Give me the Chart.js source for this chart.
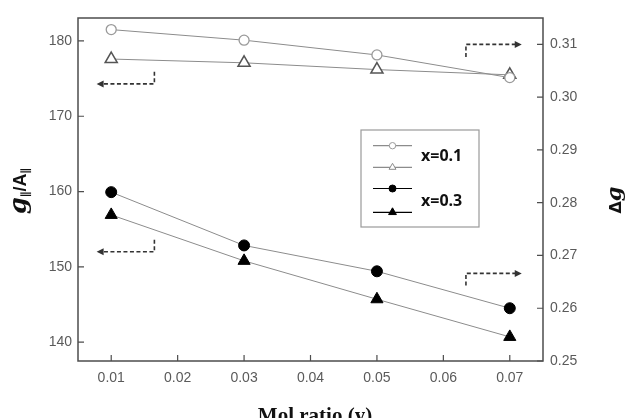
<!DOCTYPE html>
<html>
<head>
<meta charset="utf-8">
<script src="https://cdn.jsdelivr.net/npm/chart.js@4"></script>
<style>
  body { margin: 0; background: #fff; }
</style>
</head>
<body>
<canvas id="grafico" width="626" height="418"></canvas>
<script>
// valores
const molRatio = [0.01, 0.03, 0.05, 0.07];
const deltaG_x01 = [0.3128, 0.3108, 0.3080, 0.3037];   // circulos abertos, eixo direito
const gA_x01 = [177.6, 177.1, 176.2, 175.5];            // triangulos abertos, eixo esquerdo
const deltaG_x03 = [0.2820, 0.2719, 0.2670, 0.2600];   // circulos cheios, eixo direito
const gA_x03 = [156.9, 150.8, 145.7, 140.7];            // triangulos cheios, eixo esquerdo

const xTicks = [0.01, 0.02, 0.03, 0.04, 0.05, 0.06, 0.07];
const leftTicks = [140, 150, 160, 170, 180];
const rightTicks = [0.25, 0.26, 0.27, 0.28, 0.29, 0.30, 0.31];
const legendLabels = ['x=0.1', 'x=0.3'];

// setas tracejadas: [x do gancho, x da ponta, y do canto, y do gancho, eixo]
const setas = [
    [0.0165, 0.0078, 174.3, 175.9, 'y'],
    [0.0634, 0.0718, 0.3100, 0.3076, 'y2'],
    [0.0165, 0.0078, 152.0, 153.6, 'y'],
    [0.0634, 0.0718, 0.2666, 0.2643, 'y2']
];

function pontos(ys) {
    return molRatio.map((x, i) => ({ x: x, y: ys[i] }));
}

const linhaCinza = '#8c8c8c';

const datasets = [
    { label: 'x=0.1 dg', data: pontos(deltaG_x01), yAxisID: 'y2', order: 0,
      borderColor: linhaCinza, borderWidth: 1, pointStyle: 'circle', pointRadius: 5,
      pointBackgroundColor: '#fff', pointBorderColor: '#9a9a9a', pointBorderWidth: 1.3 },
    { label: 'x=0.1 gA', data: pontos(gA_x01), yAxisID: 'y', order: 1,
      borderColor: linhaCinza, borderWidth: 1, pointStyle: 'triangle', pointRadius: 7,
      pointBackgroundColor: '#fff', pointBorderColor: '#555', pointBorderWidth: 1.5 },
    { label: 'x=0.3 dg', data: pontos(deltaG_x03), yAxisID: 'y2', order: 0,
      borderColor: linhaCinza, borderWidth: 1, pointStyle: 'circle', pointRadius: 5.5,
      pointBackgroundColor: '#000', pointBorderColor: '#000', pointBorderWidth: 1 },
    { label: 'x=0.3 gA', data: pontos(gA_x03), yAxisID: 'y', order: 1,
      borderColor: linhaCinza, borderWidth: 1, pointStyle: 'triangle', pointRadius: 7,
      pointBackgroundColor: '#000', pointBorderColor: '#000', pointBorderWidth: 1 }
];

function textoComposto(ctx, partes, cx, cy) {
    let total = 0;
    partes.forEach(p => { ctx.font = p.font; total += ctx.measureText(p.text).width; });
    let x = cx - total / 2;
    partes.forEach(p => {
        ctx.font = p.font;
        ctx.fillText(p.text, x, cy + (p.dy || 0));
        x += ctx.measureText(p.text).width;
    });
}

function seta(ctx, x1, x2, y) {
    const dir = x2 > x1 ? 1 : -1;
    ctx.beginPath();
    ctx.moveTo(x2, y);
    ctx.lineTo(x2 - dir * 7, y - 3.5);
    ctx.lineTo(x2 - dir * 7, y + 3.5);
    ctx.closePath();
    ctx.fill();
}

const extras = {
    id: 'extras',
    afterDraw(chart) {
        const ctx = chart.ctx;
        const a = chart.chartArea;
        const sx = chart.scales.x;
        ctx.save();

        // moldura
        ctx.strokeStyle = '#4d4d4d';
        ctx.lineWidth = 1.5;
        ctx.strokeRect(a.left, a.top, a.right - a.left, a.bottom - a.top);

        // marcas para dentro
        ctx.lineWidth = 1.2;
        ctx.beginPath();
        sx.ticks.forEach(t => {
            const p = sx.getPixelForValue(t.value);
            ctx.moveTo(p, a.bottom); ctx.lineTo(p, a.bottom - 6);
        });
        chart.scales.y.ticks.forEach(t => {
            const p = chart.scales.y.getPixelForValue(t.value);
            ctx.moveTo(a.left, p); ctx.lineTo(a.left + 6, p);
        });
        chart.scales.y2.ticks.forEach(t => {
            const p = chart.scales.y2.getPixelForValue(t.value);
            ctx.moveTo(a.right, p); ctx.lineTo(a.right - 6, p);
        });
        ctx.stroke();

        // setas tracejadas
        ctx.strokeStyle = '#333';
        ctx.fillStyle = '#333';
        ctx.lineWidth = 1.6;
        setas.forEach(s => {
            const sc = chart.scales[s[4]];
            const xg = sx.getPixelForValue(s[0]);
            const xp = sx.getPixelForValue(s[1]);
            const yc = sc.getPixelForValue(s[2]);
            const yg = sc.getPixelForValue(s[3]);
            ctx.setLineDash([4, 2.5]);
            ctx.beginPath();
            ctx.moveTo(xg, yg);
            ctx.lineTo(xg, yc);
            ctx.lineTo(xp + (xp > xg ? -6 : 6), yc);
            ctx.stroke();
            ctx.setLineDash([]);
            seta(ctx, xg, xp, yc);
        });

        // legenda
        const lx = 361, ly = 130, lw = 118, lh = 97;
        ctx.strokeStyle = '#9a9a9a';
        ctx.lineWidth = 1.2;
        ctx.strokeRect(lx, ly, lw, lh);
        const linhas = [145.7, 167.3, 188.5, 212.3];
        const estilos = [
            { cor: '#8c8c8c', forma: 'circle', fundo: '#fff', borda: '#9a9a9a', r: 3.2 },
            { cor: '#8c8c8c', forma: 'triangle', fundo: '#fff', borda: '#8c8c8c', r: 4 },
            { cor: '#000', forma: 'circle', fundo: '#000', borda: '#000', r: 3.5 },
            { cor: '#000', forma: 'triangle', fundo: '#000', borda: '#000', r: 4.5 }
        ];
        estilos.forEach((e, i) => {
            const y = linhas[i];
            ctx.strokeStyle = e.cor;
            ctx.lineWidth = 1.2;
            ctx.beginPath();
            ctx.moveTo(373, y); ctx.lineTo(412, y);
            ctx.stroke();
            ctx.fillStyle = e.fundo;
            ctx.strokeStyle = e.borda;
            ctx.lineWidth = 1;
            Chart.helpers.drawPoint(ctx, { pointStyle: e.forma, radius: e.r, borderWidth: 1 }, 392.5, y);
        });
        ctx.fillStyle = '#111';
        ctx.font = "bold 16px 'Open Sans'";
        ctx.textBaseline = 'middle';
        ctx.textAlign = 'left';
        ctx.fillText(legendLabels[0], 421, 156.5);
        ctx.fillText(legendLabels[1], 421, 201.5);

        // titulos dos eixos
        ctx.fillStyle = '#111';
        ctx.textBaseline = 'alphabetic';
        ctx.save();
        ctx.translate(26, 191);
        ctx.rotate(-Math.PI / 2);
        textoComposto(ctx, [
            { text: 'g', font: "italic bold 24px 'DejaVu Serif'" },
            { text: '\u2225', font: "bold 11px 'DejaVu Sans'", dy: 3 },
            { text: '/A', font: "bold 18px 'Liberation Sans'" },
            { text: '\u2225', font: "bold 11px 'DejaVu Sans'", dy: 3 }
        ], 0, 0);
        ctx.restore();

        ctx.save();
        ctx.translate(621, 200);
        ctx.rotate(-Math.PI / 2);
        textoComposto(ctx, [
            { text: '\u0394', font: "bold 16px 'DejaVu Sans'" },
            { text: 'g', font: "italic bold 21px 'DejaVu Serif'" }
        ], 0, 0);
        ctx.restore();

        ctx.textAlign = 'center';
        ctx.font = "bold 21px 'Liberation Serif'";
        ctx.fillText('Mol ratio (y)', 315, 422);

        ctx.restore();
    }
};

const fonteTick = { family: "'Liberation Sans', Arial", size: 14 };

new Chart(document.getElementById('grafico'), {
    type: 'line',
    data: { datasets: datasets },
    options: {
        responsive: false,
        animation: false,
        layout: { padding: { top: 18, left: 0, right: 0, bottom: 0 } },
        plugins: { legend: { display: false }, tooltip: { enabled: false } },
        scales: {
            x: {
                type: 'linear', min: 0.005, max: 0.075,
                afterBuildTicks: s => { s.ticks = xTicks.map(v => ({ value: v })); },
                afterFit: s => { s.height = 57; },
                grid: { display: false, drawTicks: false },
                border: { display: false },
                ticks: { color: '#5a5a5a', font: fonteTick, padding: 9, maxRotation: 0,
                         callback: v => v.toFixed(2) }
            },
            y: {
                type: 'linear', position: 'left', min: 137.5, max: 183.05,
                afterBuildTicks: s => { s.ticks = leftTicks.map(v => ({ value: v })); },
                afterFit: s => { s.width = 78; },
                grid: { display: false, drawTicks: false },
                border: { display: false },
                ticks: { color: '#5a5a5a', font: fonteTick, padding: 6, callback: v => v.toFixed(0) }
            },
            y2: {
                type: 'linear', position: 'right', min: 0.25, max: 0.315,
                afterBuildTicks: s => { s.ticks = rightTicks.map(v => ({ value: v })); },
                afterFit: s => { s.width = 83; },
                grid: { display: false, drawTicks: false },
                border: { display: false },
                ticks: { color: '#5a5a5a', font: fonteTick, padding: 7, callback: v => v.toFixed(2) }
            }
        }
    },
    plugins: [extras]
});
</script>
</body>
</html>
